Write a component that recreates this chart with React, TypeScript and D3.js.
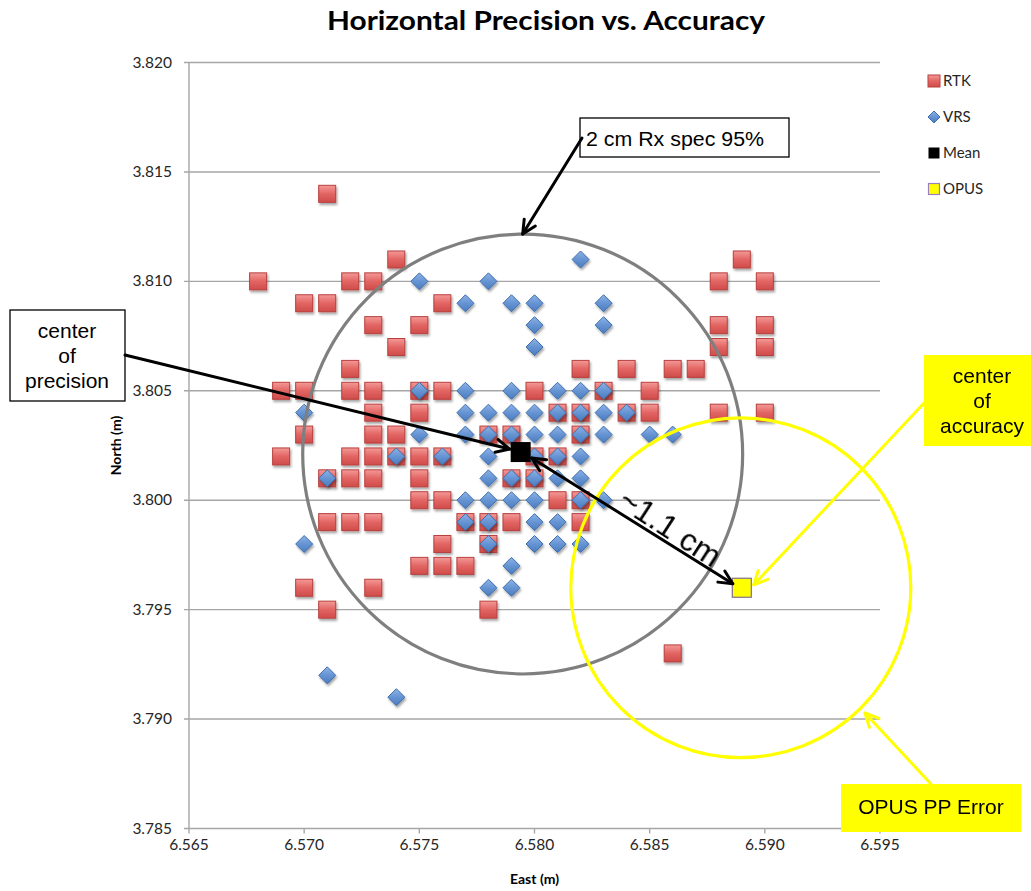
import React, { useRef, useEffect } from "react";
import * as d3 from "d3";

// RTK fixes [east, north] in metres
const rtkPoints = [
  [6.571, 3.814],
  [6.574, 3.811], [6.589, 3.811],
  [6.568, 3.81], [6.572, 3.81], [6.573, 3.81], [6.588, 3.81], [6.59, 3.81],
  [6.57, 3.809], [6.571, 3.809], [6.576, 3.809],
  [6.573, 3.808], [6.575, 3.808], [6.588, 3.808], [6.59, 3.808],
  [6.574, 3.807], [6.588, 3.807], [6.59, 3.807],
  [6.572, 3.806], [6.582, 3.806], [6.584, 3.806], [6.586, 3.806], [6.587, 3.806],
  [6.569, 3.805], [6.57, 3.805], [6.572, 3.805], [6.573, 3.805], [6.575, 3.805],
  [6.576, 3.805], [6.58, 3.805], [6.583, 3.805], [6.585, 3.805],
  [6.573, 3.804], [6.575, 3.804], [6.581, 3.804], [6.582, 3.804], [6.584, 3.804],
  [6.585, 3.804], [6.588, 3.804], [6.59, 3.804],
  [6.57, 3.803], [6.573, 3.803], [6.574, 3.803], [6.578, 3.803], [6.579, 3.803], [6.582, 3.803],
  [6.569, 3.802], [6.572, 3.802], [6.573, 3.802], [6.574, 3.802], [6.575, 3.802],
  [6.576, 3.802], [6.58, 3.802], [6.581, 3.802],
  [6.571, 3.801], [6.572, 3.801], [6.573, 3.801], [6.575, 3.801], [6.579, 3.801], [6.58, 3.801],
  [6.575, 3.8], [6.576, 3.8], [6.581, 3.8], [6.582, 3.8],
  [6.571, 3.799], [6.572, 3.799], [6.573, 3.799], [6.577, 3.799], [6.578, 3.799],
  [6.579, 3.799], [6.582, 3.799],
  [6.576, 3.798], [6.578, 3.798],
  [6.575, 3.797], [6.576, 3.797], [6.577, 3.797],
  [6.57, 3.796], [6.573, 3.796],
  [6.571, 3.795], [6.578, 3.795],
  [6.586, 3.793],
];

// VRS fixes [east, north]
const vrsPoints = [
  [6.582, 3.811],
  [6.575, 3.81], [6.578, 3.81],
  [6.577, 3.809], [6.579, 3.809], [6.58, 3.809], [6.583, 3.809],
  [6.58, 3.808], [6.583, 3.808],
  [6.58, 3.807],
  [6.575, 3.805], [6.577, 3.805], [6.579, 3.805], [6.581, 3.805], [6.582, 3.805], [6.583, 3.805],
  [6.57, 3.804], [6.577, 3.804], [6.578, 3.804], [6.579, 3.804], [6.58, 3.804],
  [6.581, 3.804], [6.582, 3.804], [6.583, 3.804], [6.584, 3.804],
  [6.575, 3.803], [6.577, 3.803], [6.578, 3.803], [6.579, 3.803], [6.58, 3.803],
  [6.581, 3.803], [6.582, 3.803], [6.583, 3.803], [6.585, 3.803], [6.586, 3.803],
  [6.574, 3.802], [6.576, 3.802], [6.578, 3.802], [6.58, 3.802], [6.581, 3.802], [6.582, 3.802],
  [6.571, 3.801], [6.578, 3.801], [6.579, 3.801], [6.58, 3.801], [6.581, 3.801], [6.582, 3.801],
  [6.577, 3.8], [6.578, 3.8], [6.579, 3.8], [6.58, 3.8], [6.582, 3.8], [6.583, 3.8],
  [6.577, 3.799], [6.578, 3.799], [6.58, 3.799], [6.581, 3.799],
  [6.57, 3.798], [6.578, 3.798], [6.58, 3.798], [6.581, 3.798], [6.582, 3.798],
  [6.579, 3.797],
  [6.578, 3.796], [6.579, 3.796],
  [6.571, 3.792],
  [6.574, 3.791],
];

const meanPoint = [6.5794, 3.8022];
const opusPoint = [6.589, 3.796];

const eastTicks = [6.565, 6.57, 6.575, 6.58, 6.585, 6.59, 6.595];
const northTicks = [3.785, 3.79, 3.795, 3.8, 3.805, 3.81, 3.815, 3.82];
const legendItems = ["RTK", "VRS", "Mean", "OPUS"];

// annotation ellipse radii [east, north]
const specRadius = [0.00955, 0.01005];
const opusRadius = [0.00738, 0.00776];

const App = () => {
  const svgRef = useRef(null);

  useEffect(() => {
    const width = 1031;
    const height = 891;
    const margin = { top: 62.5, right: 151, bottom: 62.5, left: 189 };

    const svg = d3
      .select(svgRef.current)
      .attr("width", width)
      .attr("height", height);

    svg.selectAll("*").remove();

    const x = d3
      .scaleLinear()
      .domain([6.565, 6.595])
      .range([margin.left, width - margin.right]);

    const y = d3
      .scaleLinear()
      .domain([3.785, 3.82])
      .range([height - margin.bottom, margin.top]);

    const defs = svg.append("defs");
    const red = defs
      .append("linearGradient")
      .attr("id", "rtkFill")
      .attr("x1", 0).attr("y1", 0).attr("x2", 0).attr("y2", 1);
    red.append("stop").attr("offset", 0).attr("stop-color", "#f39a98");
    red.append("stop").attr("offset", 0.5).attr("stop-color", "#e26563");
    red.append("stop").attr("offset", 1).attr("stop-color", "#cf4c4a");
    const blue = defs
      .append("linearGradient")
      .attr("id", "vrsFill")
      .attr("x1", 0).attr("y1", 0).attr("x2", 0).attr("y2", 1);
    blue.append("stop").attr("offset", 0).attr("stop-color", "#8db3e6");
    blue.append("stop").attr("offset", 0.5).attr("stop-color", "#6694d3");
    blue.append("stop").attr("offset", 1).attr("stop-color", "#4a7cbf");
    const shadow = defs
      .append("filter")
      .attr("id", "shadow")
      .attr("x", "-50%").attr("y", "-50%").attr("width", "200%").attr("height", "200%");
    shadow
      .append("feDropShadow")
      .attr("dx", 1.2).attr("dy", 2.2).attr("stdDeviation", 1.3)
      .attr("flood-color", "#000").attr("flood-opacity", 0.35);

    // title
    svg
      .append("text")
      .attr("x", 546)
      .attr("y", 30)
      .attr("text-anchor", "middle")
      .attr("font-family", "Lato, sans-serif")
      .attr("font-weight", "bold")
      .attr("font-size", 27)
      .attr("textLength", 438)
      .attr("lengthAdjust", "spacingAndGlyphs")
      .text("Horizontal Precision vs. Accuracy");

    // gridlines
    svg
      .append("g")
      .selectAll("line")
      .data(northTicks.slice(1))
      .join("line")
      .attr("x1", x(6.565) - 5)
      .attr("x2", x(6.595))
      .attr("y1", (d) => y(d))
      .attr("y2", (d) => y(d))
      .attr("stroke", "#a6a6a6")
      .attr("stroke-width", 1.4);

    // axes lines
    svg
      .append("line")
      .attr("x1", x(6.565)).attr("x2", x(6.565))
      .attr("y1", y(3.82)).attr("y2", y(3.785))
      .attr("stroke", "#a6a6a6").attr("stroke-width", 1.4);
    svg
      .append("line")
      .attr("x1", x(6.565) - 5).attr("x2", x(6.595))
      .attr("y1", y(3.785)).attr("y2", y(3.785))
      .attr("stroke", "#a6a6a6").attr("stroke-width", 1.4);
    svg
      .append("g")
      .selectAll("line")
      .data(eastTicks)
      .join("line")
      .attr("x1", (d) => x(d)).attr("x2", (d) => x(d))
      .attr("y1", y(3.785)).attr("y2", y(3.785) + 5)
      .attr("stroke", "#a6a6a6").attr("stroke-width", 1.4);

    // tick labels
    svg
      .append("g")
      .selectAll("text")
      .data(northTicks)
      .join("text")
      .attr("x", x(6.565) - 17)
      .attr("y", (d) => y(d) + 5)
      .attr("text-anchor", "end")
      .attr("font-family", "Lato, sans-serif")
      .attr("font-size", 15.5)
      .attr("fill", "#262626")
      .text((d) => d3.format(".3f")(d));
    svg
      .append("g")
      .selectAll("text")
      .data(eastTicks)
      .join("text")
      .attr("x", (d) => x(d))
      .attr("y", y(3.785) + 21)
      .attr("text-anchor", "middle")
      .attr("font-family", "Lato, sans-serif")
      .attr("font-size", 15.5)
      .attr("fill", "#262626")
      .text((d) => d3.format(".3f")(d));

    // axis titles
    svg
      .append("text")
      .attr("x", (x(6.565) + x(6.595)) / 2)
      .attr("y", 884)
      .attr("text-anchor", "middle")
      .attr("font-family", "Lato, sans-serif")
      .attr("font-weight", "bold")
      .attr("font-size", 14)
      .text("East (m)");
    svg
      .append("text")
      .attr("transform", `translate(121,${(y(3.82) + y(3.785)) / 2}) rotate(-90)`)
      .attr("text-anchor", "middle")
      .attr("font-family", "Lato, sans-serif")
      .attr("font-weight", "bold")
      .attr("font-size", 14)
      .text("North (m)");

    // RTK squares
    const sq = 17;
    svg
      .append("g")
      .attr("filter", "url(#shadow)")
      .selectAll("rect")
      .data(rtkPoints)
      .join("rect")
      .attr("x", (d) => x(d[0]) - sq / 2)
      .attr("y", (d) => y(d[1]) - sq / 2)
      .attr("width", sq)
      .attr("height", sq)
      .attr("fill", "url(#rtkFill)")
      .attr("stroke", "#b8403e")
      .attr("stroke-width", 1);

    // VRS diamonds
    const dm = 8.5;
    const diamond = `M0,${-dm}L${dm},0L0,${dm}L${-dm},0Z`;
    svg
      .append("g")
      .attr("filter", "url(#shadow)")
      .selectAll("path")
      .data(vrsPoints)
      .join("path")
      .attr("transform", (d) => `translate(${x(d[0])},${y(d[1])})`)
      .attr("d", diamond)
      .attr("fill", "url(#vrsFill)")
      .attr("stroke", "#3f6fae")
      .attr("stroke-width", 1);

    // mean and OPUS
    svg
      .append("rect")
      .attr("x", x(meanPoint[0]) - 10)
      .attr("y", y(meanPoint[1]) - 10)
      .attr("width", 20)
      .attr("height", 20)
      .attr("fill", "#000");
    svg
      .append("rect")
      .attr("x", x(opusPoint[0]) - 9.5)
      .attr("y", y(opusPoint[1]) - 9.5)
      .attr("width", 19)
      .attr("height", 19)
      .attr("fill", "#ffff00")
      .attr("stroke", "#7f6f8f")
      .attr("stroke-width", 1.2);

    // legend
    const legend = svg.append("g");
    legendItems.forEach((name, i) => {
      const ly = 81 + i * 36;
      const g = legend.append("g").attr("transform", `translate(934,${ly})`);
      if (name === "RTK") {
        g.append("rect").attr("x", -6).attr("y", -6).attr("width", 12).attr("height", 12)
          .attr("fill", "url(#rtkFill)").attr("stroke", "#b8403e");
      } else if (name === "VRS") {
        g.append("path").attr("d", "M0,-6L6,0L0,6L-6,0Z")
          .attr("fill", "url(#vrsFill)").attr("stroke", "#3f6fae");
      } else if (name === "Mean") {
        g.append("rect").attr("x", -5.5).attr("y", -5.5).attr("width", 11).attr("height", 11)
          .attr("fill", "#000");
      } else {
        g.append("rect").attr("x", -5.5).attr("y", -5.5).attr("width", 11).attr("height", 11)
          .attr("fill", "#ffff00").attr("stroke", "#9a7fc0").attr("stroke-width", 1.2);
      }
      g.append("text")
        .attr("x", 9)
        .attr("y", 5)
        .attr("font-family", "Lato, sans-serif")
        .attr("font-size", 15)
        .attr("fill", "#262626")
        .text(name);
    });

    // annotation circles
    const ann = svg.append("g");
    ann
      .append("ellipse")
      .attr("cx", x(meanPoint[0]) + 2)
      .attr("cy", y(meanPoint[1]) + 2)
      .attr("rx", x(meanPoint[0] + specRadius[0]) - x(meanPoint[0]))
      .attr("ry", y(meanPoint[1] - specRadius[1]) - y(meanPoint[1]))
      .attr("fill", "none")
      .attr("stroke", "#7f7f7f")
      .attr("stroke-width", 3.2);
    ann
      .append("ellipse")
      .attr("cx", x(opusPoint[0]) - 1)
      .attr("cy", y(opusPoint[1]))
      .attr("rx", x(opusPoint[0] + opusRadius[0]) - x(opusPoint[0]))
      .attr("ry", y(opusPoint[1] - opusRadius[1]) - y(opusPoint[1]))
      .attr("fill", "none")
      .attr("stroke", "#ffff00")
      .attr("stroke-width", 3.2);

    const arrowHead = (x1, y1, x2, y2, color) => {
      const a = Math.atan2(y2 - y1, x2 - x1);
      const L = 15;
      const s = 0.45;
      ann
        .append("path")
        .attr(
          "d",
          `M${x2 - L * Math.cos(a - s)},${y2 - L * Math.sin(a - s)}L${x2},${y2}L${
            x2 - L * Math.cos(a + s)
          },${y2 - L * Math.sin(a + s)}`
        )
        .attr("fill", "none")
        .attr("stroke", color)
        .attr("stroke-width", 3)
        .attr("stroke-linecap", "round")
        .attr("stroke-linejoin", "round");
    };
    const arrow = (x1, y1, x2, y2, color, both = false) => {
      ann
        .append("line")
        .attr("x1", x1).attr("y1", y1).attr("x2", x2).attr("y2", y2)
        .attr("stroke", color)
        .attr("stroke-width", 3)
        .attr("stroke-linecap", "round");
      arrowHead(x1, y1, x2, y2, color);
      if (both) arrowHead(x2, y2, x1, y1, color);
    };

    const mx = x(meanPoint[0]);
    const my = y(meanPoint[1]);
    const ox = x(opusPoint[0]);
    const oy = y(opusPoint[1]);

    // text boxes
    const box = (bx, by, bw, bh, fill) =>
      ann
        .append("rect")
        .attr("x", bx).attr("y", by).attr("width", bw).attr("height", bh)
        .attr("fill", fill)
        .attr("stroke", fill === "#fff" ? "#000" : "none")
        .attr("stroke-width", 1.3);
    const lines = (cx, ys, words) =>
      words.forEach((w, i) =>
        ann
          .append("text")
          .attr("x", cx)
          .attr("y", ys[i])
          .attr("text-anchor", "middle")
          .attr("font-family", "'Liberation Sans', Arial, sans-serif")
          .attr("font-size", 21)
          .text(w)
      );

    box(580, 118, 209, 39, "#fff");
    ann
      .append("text")
      .attr("x", 586)
      .attr("y", 146)
      .attr("font-family", "'Liberation Sans', Arial, sans-serif")
      .attr("font-size", 20)
      .attr("textLength", 178)
      .attr("lengthAdjust", "spacingAndGlyphs")
      .text("2 cm Rx spec 95%");
    arrow(582, 138, mx + 2, my + 2 - 220, "#000");

    box(10, 310, 115, 91, "#fff");
    lines(67, [338, 363, 388], ["center", "of", "precision"]);
    arrow(125, 355, mx - 11, my - 3, "#000");

    arrow(mx + 11, my + 6, ox - 9, oy - 4, "#000", true);
    ann
      .append("text")
      .attr("transform", `translate(${(mx + ox) / 2 + 33},${(my + oy) / 2 + 17}) rotate(33)`)
      .attr("text-anchor", "middle")
      .attr("font-family", "'Liberation Sans', Arial, sans-serif")
      .attr("font-size", 32)
      .text("~1.1 cm");

    box(924, 355, 120, 91, "#ffff00");
    lines(982, [383, 408, 433], ["center", "of", "accuracy"]);
    arrow(925, 402, ox + 12, oy - 3, "#ffff00");

    box(841, 784, 180, 48, "#ffff00");
    lines(931, [814], ["OPUS PP Error"]);
    arrow(931, 784, 865, 713, "#ffff00");
  }, []);

  return (
    <svg
      ref={svgRef}
      style={{ position: "absolute", left: 0, top: 0, background: "#fff" }}
    ></svg>
  );
};

export default App;
